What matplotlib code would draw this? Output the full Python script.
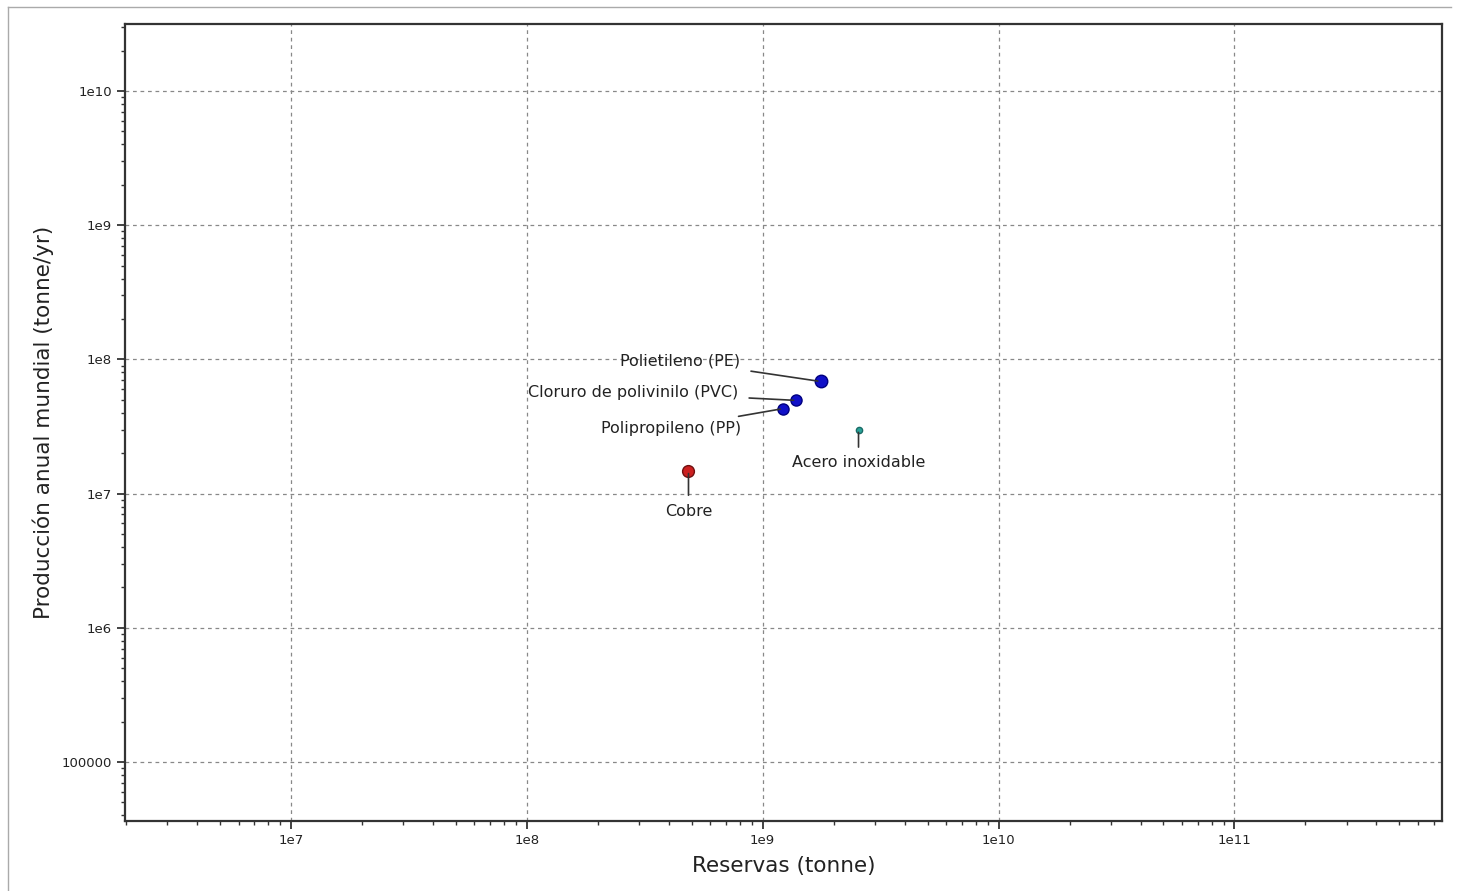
import matplotlib.pyplot as plt
import numpy as np
from matplotlib.lines import Line2D

# Data (log-log)
materials = ["Polietileno (PE)", "Cloruro de polivinilo (PVC)", "Polipropileno (PP)",
             "Acero inoxidable", "Cobre"]
reserves = [1.76e9, 1.39e9, 1.22e9, 2.55e9, 4.85e8]
production = [6.85e7, 4.95e7, 4.3e7, 3.0e7, 1.48e7]
face_colors = ["#1010c8", "#1010c8", "#1010c8", "#2aa39a", "#cc2020"]
edge_colors = ["#000080", "#000080", "#000080", "#1a6b66", "#701010"]
marker_sizes = [9, 8, 8, 4.5, 8.5]
# label offsets in points (dx, dy), alignment and gap between label and leader line
offsets = [(-58, 15), (-42, 6), (-30, -14), (0, -24), (0, -29)]
aligns = ["right", "right", "right", "center", "center"]
gaps = [6, 6, 6, 4, 4]

fig = plt.figure(figsize=(14.58, 8.91), dpi=100)
ax = fig.add_axes([125 / 1458, 1 - 821 / 891, (1442 - 125) / 1458, (821 - 24) / 891])

ax.set_xscale("log")
ax.set_yscale("log")
ax.set_xlim(10 ** 6.297, 10 ** 11.88)
ax.set_ylim(10 ** 4.56, 10 ** 10.5)

for x, y, name, fc, ec, ms, off, ha, gap in zip(reserves, production, materials, face_colors,
                                               edge_colors, marker_sizes, offsets, aligns, gaps):
    ax.plot(x, y, "o", color=fc, markeredgecolor=ec, markersize=ms, zorder=4)
    ax.annotate(name, xy=(x, y), xytext=off, textcoords="offset points",
                ha=ha, va="center", fontsize=11.5, color="#222222",
                arrowprops=dict(arrowstyle="-", color="#333333", lw=1.2,
                                shrinkA=gap, shrinkB=2),
                zorder=5)

ax.set_xticks([1e7, 1e8, 1e9, 1e10, 1e11])
ax.set_xticklabels(["1e7", "1e8", "1e9", "1e10", "1e11"])
ax.set_yticks([1e5, 1e6, 1e7, 1e8, 1e9, 1e10])
ax.set_yticklabels(["100000", "1e6", "1e7", "1e8", "1e9", "1e10"])
ax.tick_params(which="major", direction="out", length=6, width=1.2, labelsize=9.5,
               colors="#222222")
ax.tick_params(which="minor", direction="out", length=3, width=1.0, colors="#333333")

ax.grid(True, which="major", linestyle=(0, (3, 3)), color="#888888", linewidth=0.9)
for s in ax.spines.values():
    s.set_linewidth(1.6)
    s.set_color("#333333")

ax.set_xlabel("Reservas (tonne)", fontsize=15.5, color="#222222", labelpad=6)
ax.set_ylabel("Producción anual mundial (tonne/yr)", fontsize=15.5, color="#222222",
              labelpad=5)

# light frame around the figure
for xs, ys in [([8 / 1458, 8 / 1458], [0, 1 - 7 / 891]),
               ([8 / 1458, 1451 / 1458], [1 - 7 / 891, 1 - 7 / 891])]:
    fig.add_artist(Line2D(xs, ys, color="#aaaaaa", lw=1.0))

plt.savefig("out.png", dpi=100)
